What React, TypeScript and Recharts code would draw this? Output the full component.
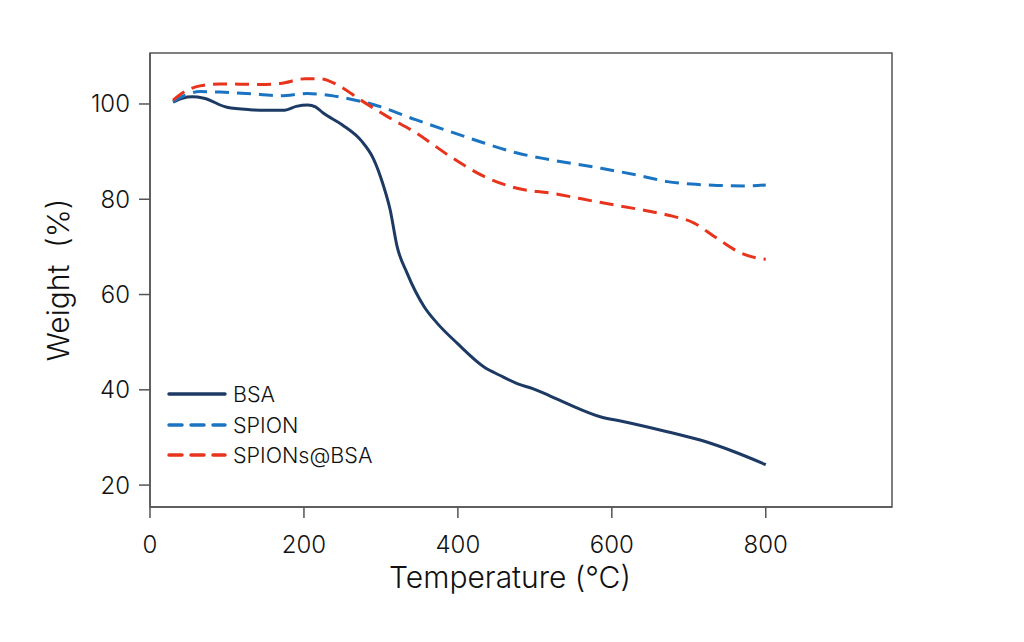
import React from "react";
import { LineChart, Line, XAxis, YAxis, ReferenceArea } from "recharts";

const xTicks = [0, 200, 400, 600, 800];
const yTicks = [20, 40, 60, 80, 100];

const bsaT = [30, 42, 55, 70, 100, 130, 150, 175, 190, 205, 215, 225, 250, 275, 290, 303, 312, 321, 334, 356, 373, 399, 434, 455, 477, 498, 520, 542, 586, 616, 672, 716, 759, 800];
const bsaW = [100.4, 101.2, 101.5, 101.2, 99.3, 98.8, 98.7, 98.7, 99.5, 99.8, 99.4, 98.1, 95.6, 92.2, 88.6, 83, 77.8, 70.1, 64.5, 57.5, 54, 49.8, 44.8, 43, 41.3, 40.2, 38.7, 37.1, 34.3, 33.3, 31.2, 29.4, 27, 24.3];

const spionT = [30, 45, 65, 91, 143, 169, 204, 238, 264, 290, 345, 390, 434, 477, 520, 586, 638, 672, 703, 737, 772, 800];
const spionW = [100.5, 101.8, 102.6, 102.5, 102, 101.7, 102.2, 101.7, 100.9, 99.9, 96.7, 94.2, 91.8, 89.7, 88.3, 86.5, 84.9, 83.7, 83.2, 82.9, 82.8, 83];

const compT = [30, 43, 65, 91, 143, 169, 202, 221, 247, 273, 308, 345, 390, 434, 477, 520, 586, 638, 672, 707, 733, 768, 794, 800];
const compW = [100.8, 102.4, 103.8, 104.2, 104.1, 104.3, 105.3, 105.3, 103.7, 100.9, 97.4, 94, 89, 84.8, 82.3, 81.3, 79.3, 77.8, 76.7, 75, 72.2, 68.7, 67.5, 67.4];

const toData = (t: number[], w: number[]) => t.map((x, i) => ({ t: x, w: w[i] }));
const bsaData = toData(bsaT, bsaW);
const spionData = toData(spionT, spionW);
const compData = toData(compT, compW);

const X_MIN = 0;
const X_MAX = 964;
const Y_MIN = 15.4;
const Y_MAX = 110.7;

const FONT = "Inter, 'Open Sans', sans-serif";

const series = [
  { name: "BSA", color: "#1c3a64", dash: false },
  { name: "SPION", color: "#1a74c2", dash: true },
  { name: "SPIONs@BSA", color: "#e8341c", dash: true },
];

const LegendBox = () => (
  <div style={{ position: "absolute", left: 166, top: 379, width: 280, fontFamily: FONT, fontSize: 21.5, fontWeight: 300, color: "#111" }}>
    {series.map((s) => (
      <div key={s.name} style={{ display: "flex", alignItems: "center", height: 30.5 }}>
        <svg width={62} height={10} style={{ marginRight: 5 }}>
          <line x1={3} y1={5} x2={59} y2={5} stroke={s.color} strokeWidth={3.5} strokeLinecap="round" strokeDasharray={s.dash ? "13 9" : undefined} />
        </svg>
        <span>{s.name}</span>
      </div>
    ))}
  </div>
);

export default function App() {
  return (
    <div style={{ position: "absolute", left: 0, top: 0, width: 1024, height: 642, background: "#fff" }}>
      <LineChart width={1024} height={642} margin={{ top: 53, right: 132, left: 0, bottom: 0 }}>
        <XAxis
          type="number"
          dataKey="t"
          domain={[X_MIN, X_MAX]}
          ticks={xTicks}
          height={135}
          allowDataOverflow
          tick={{ fontFamily: FONT, fontSize: 24, fontWeight: 300, fill: "#111" }}
          tickLine={{ stroke: "#555", strokeWidth: 1.5 }}
          tickSize={11}
          tickMargin={18}
          axisLine={{ stroke: "#555", strokeWidth: 1.5 }}
          label={{ value: "Temperature (°C)", position: "insideTop", offset: 60, dx: -11, style: { fontFamily: FONT, fontSize: 30, fontWeight: 300, fill: "#111" } }}
        />
        <YAxis
          type="number"
          domain={[Y_MIN, Y_MAX]}
          ticks={yTicks}
          width={150}
          allowDataOverflow
          tick={{ fontFamily: FONT, fontSize: 24, fontWeight: 300, fill: "#111" }}
          tickLine={{ stroke: "#555", strokeWidth: 1.5 }}
          tickSize={11}
          tickMargin={9}
          axisLine={{ stroke: "#555", strokeWidth: 1.5 }}
          label={{ value: "Weight\u00a0\u00a0(%)", angle: -90, position: "insideLeft", offset: 58, style: { fontFamily: FONT, fontSize: 30, fontWeight: 300, fill: "#111", textAnchor: "middle" } }}
        />
        <ReferenceArea x1={X_MIN} x2={X_MAX} y1={Y_MIN} y2={Y_MAX} fill="none" stroke="#555" strokeWidth={1.5} ifOverflow="extendDomain" />
        <Line data={bsaData} dataKey="w" name="BSA" type="monotone" stroke={series[0].color} strokeWidth={3} dot={false} isAnimationActive={false} />
        <Line data={spionData} dataKey="w" name="SPION" type="monotone" stroke={series[1].color} strokeWidth={3} strokeDasharray="14 8" dot={false} isAnimationActive={false} />
        <Line data={compData} dataKey="w" name="SPIONs@BSA" type="monotone" stroke={series[2].color} strokeWidth={3} strokeDasharray="14 8" dot={false} isAnimationActive={false} />
      </LineChart>
      <LegendBox />
    </div>
  );
}
